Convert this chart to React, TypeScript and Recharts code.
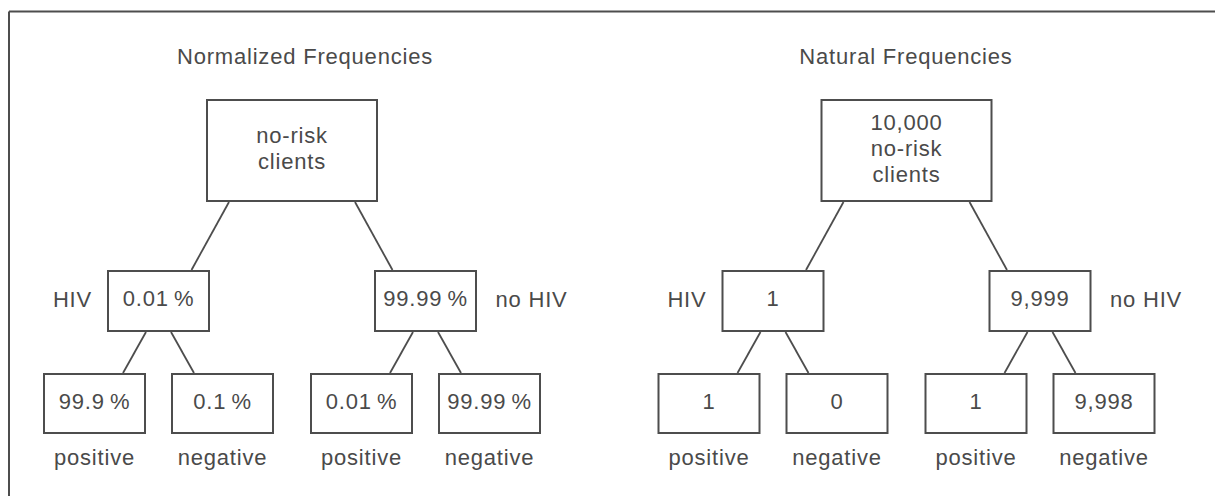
import { ScatterChart, Scatter, XAxis, YAxis, ReferenceLine } from 'recharts';

// --- text / values ---
const panelTitles = ['Normalized Frequencies', 'Natural Frequencies'];
const rootLabels = [['no-risk', 'clients'], ['10,000', 'no-risk', 'clients']];
const branchValues = [['0.01\u2009%', '99.99\u2009%'], ['1', '9,999']];
const testValues = [
  ['99.9\u2009%', '0.1\u2009%', '0.01\u2009%', '99.99\u2009%'],
  ['1', '0', '1', '9,998'],
];
const branchLabels = ['HIV', 'no HIV'];
const testLabels = ['positive', 'negative', 'positive', 'negative'];

// --- layout (page pixels, axes map 1:1) ---
const W = 1215;
const H = 496;
const panelX = [292, 906.5];
const titleX = [305, 906];
const TITLE_Y = 56.5;
const ROOT = { y: 150.5, w: 172, h: 103 };
const BRANCH = { y: 301, w: 103, h: 62, dx: 133.5 };
const TEST = { y: 403.5, w: 103, h: 61, dx: 64 };
const LABEL_Y = 456.8;

const INK = '#4d4d4d';
const TEXT = '#4a4a4a';
const FONT = '"Liberation Sans", Arial, Helvetica, sans-serif';

type Node = { x: number; y: number; w: number; h: number; lines: string[] };
type Label = { x: number; y: number; text: string; anchor: 'start' | 'middle' | 'end' };

const rootNodes: Node[] = panelX.map((px, i) => ({ x: px, y: ROOT.y, w: ROOT.w, h: ROOT.h, lines: rootLabels[i] }));

const branchNodes: Node[] = panelX.flatMap((px, i) =>
  [-1, 1].map((s, j) => ({ x: px + s * BRANCH.dx, y: BRANCH.y, w: BRANCH.w, h: BRANCH.h, lines: [branchValues[i][j]] }))
);

const testNodes: Node[] = branchNodes.flatMap((b, k) => {
  const panel = Math.floor(k / 2);
  const side = k % 2;
  return [-1, 1].map((s, j) => ({
    x: b.x + s * TEST.dx,
    y: TEST.y,
    w: TEST.w,
    h: TEST.h,
    lines: [testValues[panel][side * 2 + j]],
  }));
});

const labels: Label[] = [
  ...panelTitles.map((t, i) => ({ x: titleX[i], y: TITLE_Y, text: t, anchor: 'middle' as const })),
  ...branchNodes.map((b, k) =>
    k % 2 === 0
      ? { x: b.x - b.w / 2 - 15, y: b.y - 2, text: branchLabels[0], anchor: 'end' as const }
      : { x: b.x + b.w / 2 + 18.5, y: b.y - 2, text: branchLabels[1], anchor: 'start' as const }
  ),
  ...testNodes.map((n, k) => ({ x: n.x, y: LABEL_Y, text: testLabels[k % 4], anchor: 'middle' as const })),
];

// edges: parent bottom -> child top
const edges: { x1: number; y1: number; x2: number; y2: number }[] = [];
rootNodes.forEach((r, i) => {
  [-1, 1].forEach((s, j) => {
    const c = branchNodes[i * 2 + j];
    edges.push({ x1: r.x + s * 63, y1: r.y + r.h / 2, x2: c.x - s * 33, y2: c.y - c.h / 2 });
  });
});
branchNodes.forEach((b, k) => {
  [-1, 1].forEach((s, j) => {
    const c = testNodes[k * 2 + j];
    edges.push({ x1: b.x + s * 12.5, y1: b.y + b.h / 2, x2: c.x - s * 28.5, y2: c.y - c.h / 2 });
  });
});

const BoxShape = (props: any) => {
  const { cx, cy, payload } = props;
  const { w, h, lines } = payload as Node;
  const lead = 26;
  const top = cy - 2.5 - ((lines.length - 1) * lead) / 2;
  return (
    <g>
      <rect x={cx - w / 2 + 1} y={cy - h / 2 + 1} width={w - 2} height={h - 2} fill="#fff" stroke={INK} strokeWidth={2} />
      <text textAnchor="middle" fill={TEXT} fontSize={22} letterSpacing={0.8} fontFamily={FONT}>
        {lines.map((l, k) => (
          <tspan key={k} x={cx} y={top + k * lead} dy="0.35em">
            {l}
          </tspan>
        ))}
      </text>
    </g>
  );
};

const LabelShape = (props: any) => {
  const { cx, cy, payload } = props;
  const p = payload as Label;
  return (
    <text x={cx} y={cy} dy="0.35em" textAnchor={p.anchor} fill={TEXT} fontSize={22} letterSpacing={0.8} fontFamily={FONT}>
      {p.text}
    </text>
  );
};

export default function App() {
  return (
    <div style={{ position: 'absolute', left: 0, top: 0, width: W, height: H, background: '#fff' }}>
      <ScatterChart width={W} height={H} margin={{ top: 0, right: 0, bottom: 0, left: 0 }}>
        <XAxis type="number" dataKey="x" domain={[0, W]} hide height={0} />
        <YAxis type="number" dataKey="y" domain={[0, H]} reversed hide width={0} />
        {/* frame, only top and left edges fall inside the picture */}
        <ReferenceLine segment={[{ x: 9, y: 11.5 }, { x: W, y: 11.5 }]} stroke={INK} strokeWidth={2} ifOverflow="visible" />
        <ReferenceLine segment={[{ x: 9, y: 11.5 }, { x: 9, y: H }]} stroke={INK} strokeWidth={2} ifOverflow="visible" />
        {edges.map((e, i) => (
          <ReferenceLine
            key={i}
            segment={[{ x: e.x1, y: e.y1 }, { x: e.x2, y: e.y2 }]}
            stroke={INK}
            strokeWidth={1.8}
            ifOverflow="visible"
          />
        ))}
        <Scatter data={[...rootNodes, ...branchNodes, ...testNodes]} shape={BoxShape} isAnimationActive={false} />
        <Scatter data={labels} shape={LabelShape} isAnimationActive={false} />
      </ScatterChart>
    </div>
  );
}
